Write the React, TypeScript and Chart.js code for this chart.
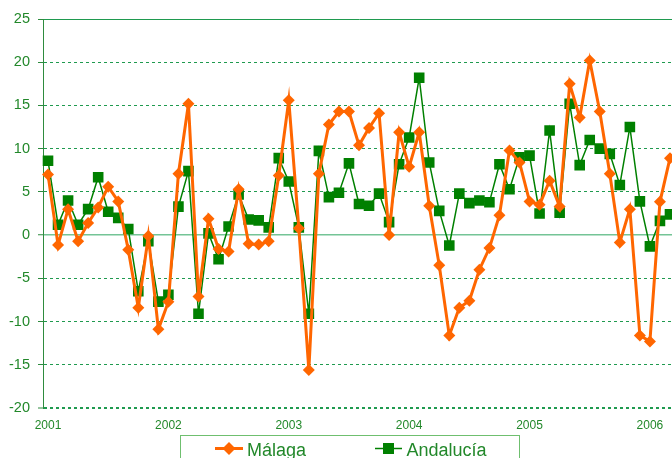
import React, { useEffect, useRef } from "react";
import { Chart, registerables } from "chart.js";

Chart.register(...registerables);

const years = ["2001", "2002", "2003", "2004", "2005", "2006"];
const monthNames = ["01", "02", "03", "04", "05", "06", "07", "08", "09", "10", "11", "12"];
const months: string[] = years.flatMap((y) => monthNames.map((m) => `${y}-${m}`)).slice(0, 63);

const malaga = [
  7.0, -1.15, 3.0, -0.7, 1.4, 3.2, 5.6, 3.9, -1.7, -8.4, -0.1, -10.9,
  -7.7, 7.1, 15.2, -7.1, 1.9, -1.6, -1.9, 5.3, -1.0, -1.1, -0.7, 6.9,
  15.6, 0.8, -15.6, 7.1, 12.8, 14.3, 14.3, 10.4, 12.4, 14.1, 0.0, 11.9,
  7.9, 11.9, 3.4, -3.5, -11.6, -8.4, -7.6, -4.0, -1.5, 2.3, 9.8, 8.4,
  3.9, 3.5, 6.3, 3.3, 17.5, 13.6, 20.2, 14.3, 7.1, -0.85, 3.0, -11.6,
  -12.3, 3.85, 8.9,
];

const andalucia = [
  8.6, 1.2, 4.0, 1.2, 3.0, 6.7, 2.7, 2.0, 0.7, -6.5, -0.7, -7.7,
  -6.9, 3.3, 7.4, -9.1, 0.2, -2.8, 1.0, 4.7, 1.8, 1.7, 0.9, 8.9,
  6.2, 0.9, -9.1, 9.75, 4.4, 4.9, 8.3, 3.6, 3.4, 4.8, 1.5, 8.2,
  11.3, 18.2, 8.4, 2.8, -1.2, 4.8, 3.7, 4.0, 3.8, 8.2, 5.3, 9.0,
  9.2, 2.5, 12.1, 2.6, 15.2, 8.1, 11.0, 10.0, 9.4, 5.8, 12.5, 3.9,
  -1.3, 1.65, 2.4,
];

const seriesNames = ["Málaga", "Andalucía"];
const yMin = -20;
const yMax = 25;
const yStep = 5;

const ORANGE = "#ff6600";
const GREEN = "#008000";
const TEXT = "#22882a";
const GRID = "#1f9a4f";

const FONT = "'Liberation Sans', Arial, sans-serif";

const legendPlugin = {
  id: "boxLegend",
  afterDraw(chart: any) {
    const ctx = chart.ctx;
    ctx.save();
    ctx.strokeStyle = "#6fbf6f";
    ctx.lineWidth = 1;
    ctx.strokeRect(180.5, 435.5, 339, 40);
    // Málaga marker
    ctx.strokeStyle = ORANGE;
    ctx.lineWidth = 3;
    ctx.beginPath();
    ctx.moveTo(215, 448.5);
    ctx.lineTo(243, 448.5);
    ctx.stroke();
    ctx.fillStyle = ORANGE;
    ctx.beginPath();
    ctx.moveTo(229, 442);
    ctx.lineTo(235.5, 448.5);
    ctx.lineTo(229, 455);
    ctx.lineTo(222.5, 448.5);
    ctx.closePath();
    ctx.fill();
    // Andalucía marker
    ctx.strokeStyle = GREEN;
    ctx.lineWidth = 1.5;
    ctx.beginPath();
    ctx.moveTo(375, 448.5);
    ctx.lineTo(402, 448.5);
    ctx.stroke();
    ctx.fillStyle = GREEN;
    ctx.fillRect(383, 443, 11, 11);
    // text
    ctx.fillStyle = TEXT;
    ctx.font = `18px ${FONT}`;
    ctx.textBaseline = "alphabetic";
    ctx.textAlign = "left";
    ctx.fillText(seriesNames[0], 247, 456);
    ctx.fillText(seriesNames[1], 406.5, 456);
    ctx.restore();
  },
};

export default function App() {
  const ref = useRef<HTMLCanvasElement | null>(null);

  useEffect(() => {
    if (!ref.current) return;
    const chart = new Chart(ref.current, {
      type: "line",
      data: {
        labels: months,
        datasets: [
          {
            label: seriesNames[0],
            data: malaga,
            borderColor: ORANGE,
            backgroundColor: ORANGE,
            borderWidth: 3,
            pointStyle: "rectRot",
            pointRadius: 6,
            pointBorderWidth: 0,
            pointBackgroundColor: ORANGE,
            tension: 0,
          },
          {
            label: seriesNames[1],
            data: andalucia,
            borderColor: GREEN,
            backgroundColor: GREEN,
            borderWidth: 1.5,
            pointStyle: "rect",
            pointRadius: 7.5,
            pointBorderWidth: 0,
            pointBackgroundColor: GREEN,
            tension: 0,
          },
        ],
      },
      options: {
        animation: false,
        responsive: false,
        maintainAspectRatio: false,
        layout: { autoPadding: false, padding: { top: 19, left: 0, right: 0, bottom: 0 } },
        plugins: {
          legend: { display: false },
          tooltip: { enabled: false },
        },
        scales: {
          x: {
            type: "category",
            offset: true,
            grid: { display: false, drawTicks: true, tickLength: 10 },
            border: { display: false },
            afterFit: (s: any) => {
              s.height = 50;
              s.paddingLeft = 0;
              s.paddingRight = 0;
            },
            ticks: {
              autoSkip: false,
              maxRotation: 0,
              minRotation: 0,
              padding: 0,
              color: TEXT,
              font: { family: FONT, size: 12 },
              callback: (_v: any, i: number) => (i % 12 === 0 ? months[i].slice(0, 4) : ""),
            },
          },
          y: {
            min: yMin,
            max: yMax,
            afterFit: (s: any) => {
              s.width = 43;
              s.paddingTop = 0;
              s.paddingBottom = 0;
            },
            ticks: {
              stepSize: yStep,
              padding: 8,
              color: TEXT,
              font: { family: FONT, size: 14.5 },
            },
            border: {
              display: true,
              color: "#2e8b3e",
              width: 1,
              dash: (c: any) =>
                c.tick && (c.tick.value === 0 || c.tick.value === yMax) ? [] : [3, 3],
            },
            grid: {
              color: (c: any) => (c.tick && c.tick.value === 0 ? "#74c496" : GRID),
              lineWidth: (c: any) =>
                c.tick && c.tick.value === 0 ? 1.5 : c.tick && c.tick.value === yMin ? 2 : 1,
              tickLength: 5,
              tickColor: "#2e8b3e",
              tickBorderDash: [],
              tickWidth: 1,
            },
          },
        },
      },
      plugins: [legendPlugin],
    } as any);
    return () => chart.destroy();
  }, []);

  return (
    <div style={{ position: "fixed", left: 0, top: 0, width: 672, height: 458, overflow: "hidden", background: "#fff" }}>
      <canvas ref={ref} width={675} height={458} style={{ width: 675, height: 458, display: "block" }} />
    </div>
  );
}
